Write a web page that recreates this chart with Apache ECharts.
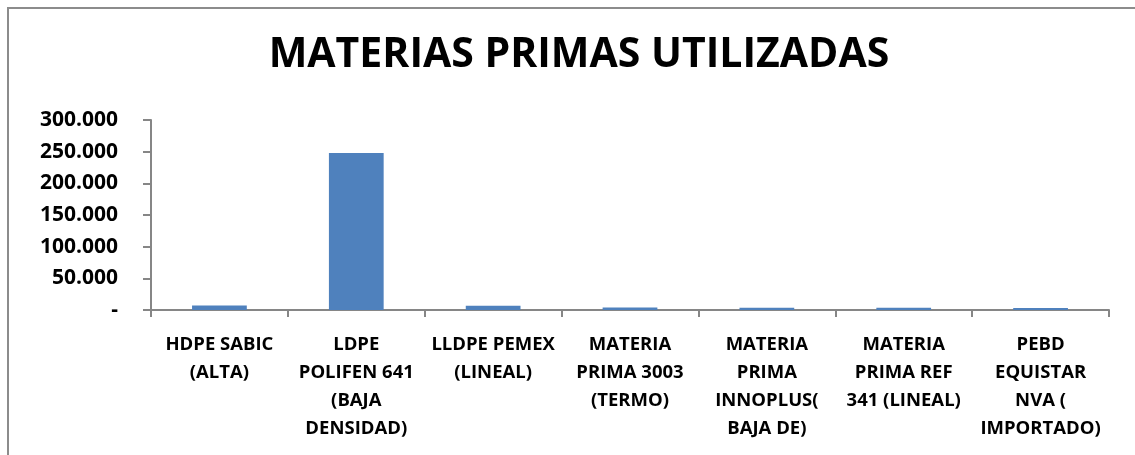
<!DOCTYPE html>
<html>
<head>
<meta charset="utf-8">
<script src="https://cdn.jsdelivr.net/npm/echarts@6/dist/echarts.min.js"></script>
<style>
  html, body { margin: 0; padding: 0; background: #fff; }
  #chart { width: 1135px; height: 455px; }
</style>
</head>
<body>
<div id="chart"></div>
<script>
// materias primas y cantidades utilizadas
var categorias = [
  'HDPE SABIC\n(ALTA)',
  'LDPE\nPOLIFEN 641\n(BAJA\nDENSIDAD)',
  'LLDPE PEMEX\n(LINEAL)',
  'MATERIA\nPRIMA 3003\n(TERMO)',
  'MATERIA\nPRIMA\nINNOPLUS(\nBAJA DE)',
  'MATERIA\nPRIMA REF\n341 (LINEAL)',
  'PEBD\nEQUISTAR\nNVA (\nIMPORTADO)'
]
var cantidades = [7000, 248000, 6800, 3800, 3600, 3500, 3000]

var fuente = 'Open Sans'

var chart = echarts.init(document.getElementById('chart'))

var options = {
  animation: false,
  title: {
    text: 'MATERIAS PRIMAS UTILIZADAS',
    left: 574,
    textAlign: 'center',
    top: 30,
    textStyle: {
      fontFamily: fuente,
      fontWeight: 'bold',
      fontSize: 41,
      color: '#000'
    }
  },
  graphic: [{
    type: 'rect',
    shape: { x: 8, y: 8, width: 1200, height: 600 },
    style: { fill: 'none', stroke: '#8c8c8c', lineWidth: 2 },
    silent: true
  }],
  color: ['#4f81bd'],
  grid: {
    left: 151,
    right: 26,
    top: 120,
    bottom: 145
  },
  xAxis: [{
    type: 'category',
    data: categorias,
    axisLine: { lineStyle: { color: '#868686', width: 2 } },
    axisTick: { show: true, length: 7, lineStyle: { color: '#868686', width: 2 } },
    axisLabel: {
      interval: 0,
      margin: 21,
      color: '#000',
      fontFamily: fuente,
      fontWeight: 'bold',
      fontSize: 18.5,
      lineHeight: 28
    }
  }],
  yAxis: [{
    type: 'value',
    min: 0,
    max: 300000,
    interval: 50000,
    splitLine: { show: false },
    axisLine: { show: true, lineStyle: { color: '#868686', width: 2 } },
    axisTick: { show: true, length: 8, lineStyle: { color: '#868686', width: 2 } },
    axisLabel: {
      margin: 33,
      color: '#000',
      fontFamily: fuente,
      fontWeight: 'bold',
      fontSize: 21,
      formatter: function (v) {
        if (v === 0) return '-'
        return String(v).replace(/\B(?=(\d{3})+(?!\d))/g, '.')
      }
    }
  }],
  series: [{
    name: 'Cantidad',
    type: 'bar',
    barWidth: '40%',
    data: cantidades
  }]
}

chart.setOption(options)
</script>
</body>
</html>
